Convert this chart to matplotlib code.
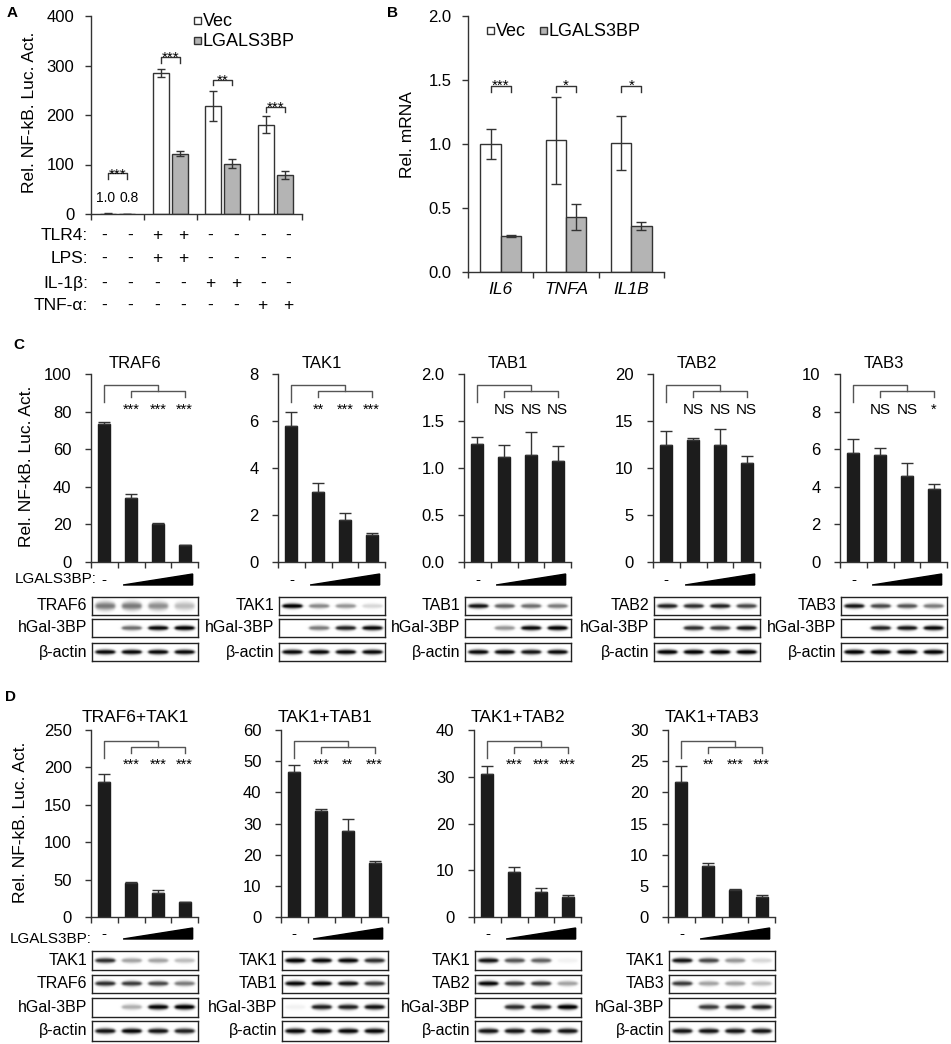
import matplotlib
matplotlib.use('Agg')
import matplotlib.pyplot as plt
from matplotlib.patches import Rectangle, Polygon
from matplotlib.transforms import blended_transform_factory
import numpy as np

plt.rcParams['font.family'] = ['Liberation Sans', 'DejaVu Sans']

W, H = 951, 1044
DARK = '#333333'
GRAY = '#b4b4b4'
BLACK = '#1c1c1c'

# ---- panel A data
a_vec = [1.0, 285, 218, 180]
a_vec_err = [0.2, 8, 31, 17]
a_lgals = [0.8, 122, 102, 79]
a_lgals_err = [0.2, 5, 10, 8]
a_stars = ['***', '***', '**', '***']
a_bracket = [82, 317, 271, 217]
a_small = ['1.0', '0.8']
a_rows = ['TLR4:', 'LPS:', 'IL-1β:', 'TNF-α:']
a_signs = [['-', '-', '+', '+', '-', '-', '-', '-'],
           ['-', '-', '+', '+', '-', '-', '-', '-'],
           ['-', '-', '-', '-', '+', '+', '-', '-'],
           ['-', '-', '-', '-', '-', '-', '+', '+']]

# ---- panel B data
b_genes = ['IL6', 'TNFA', 'IL1B']
b_vec = [1.00, 1.03, 1.01]
b_vec_err = [0.12, 0.34, 0.21]
b_lgals = [0.28, 0.43, 0.36]
b_lgals_err = [0.01, 0.10, 0.03]
b_stars = ['***', '*', '*']
b_bracket = 1.45

# ---- panel C data
c_titles = ['TRAF6', 'TAK1', 'TAB1', 'TAB2', 'TAB3']
c_vals = [[73.5, 34.0, 20.0, 9.0],
          [5.8, 3.0, 1.8, 1.15],
          [1.26, 1.12, 1.14, 1.07],
          [12.4, 13.0, 12.5, 10.5],
          [5.8, 5.7, 4.6, 3.9]]
c_errs = [[1.0, 2.4, 1.0, 0.3],
          [0.6, 0.36, 0.27, 0.07],
          [0.07, 0.13, 0.24, 0.16],
          [1.5, 0.2, 1.65, 0.8],
          [0.76, 0.39, 0.68, 0.23]]
c_ymax = [100, 8, 2.0, 20, 10]
c_ystep = [20, 2, 0.5, 5, 2]
c_fmt = ['{:.0f}', '{:.0f}', '{:.1f}', '{:.0f}', '{:.0f}']
c_sig = [['***', '***', '***'], ['**', '***', '***'], ['NS', 'NS', 'NS'],
         ['NS', 'NS', 'NS'], ['NS', 'NS', '*']]
c_blot_names = [['TRAF6', 'hGal-3BP', 'β-actin'],
                ['TAK1', 'hGal-3BP', 'β-actin'],
                ['TAB1', 'hGal-3BP', 'β-actin'],
                ['TAB2', 'hGal-3BP', 'β-actin'],
                ['TAB3', 'hGal-3BP', 'β-actin']]
c_bands = [[[0.5, 0.5, 0.42, 0.25], [0.0, 0.55, 0.95, 1.0], [0.95, 0.95, 0.95, 0.95]],
           [[1.0, 0.45, 0.4, 0.15], [0.0, 0.5, 0.85, 0.95], [0.95, 0.95, 0.95, 0.95]],
           [[0.9, 0.6, 0.55, 0.5], [0.0, 0.4, 0.95, 1.0], [0.95, 0.95, 0.9, 0.95]],
           [[0.85, 0.8, 0.85, 0.7], [0.0, 0.8, 0.75, 0.9], [1.0, 1.0, 1.0, 1.0]],
           [[0.9, 0.7, 0.65, 0.5], [0.0, 0.85, 0.9, 0.95], [1.0, 1.0, 1.0, 1.0]]]

# ---- panel D data
d_titles = ['TRAF6+TAK1', 'TAK1+TAB1', 'TAK1+TAB2', 'TAK1+TAB3']
d_vals = [[180, 46, 32, 19.5],
          [46.6, 33.9, 27.6, 17.3],
          [30.5, 9.7, 5.3, 4.2],
          [21.6, 8.2, 4.4, 3.15]]
d_errs = [[11.5, 0.5, 3.5, 0.5],
          [2.1, 0.7, 3.8, 0.8],
          [1.9, 1.07, 0.9, 0.5],
          [2.6, 0.5, 0.1, 0.3]]
d_ymax = [250, 60, 40, 30]
d_ystep = [50, 10, 10, 5]
d_sig = [['***', '***', '***'], ['***', '**', '***'], ['***', '***', '***'],
         ['**', '***', '***']]
d_blot_names = [['TAK1', 'TRAF6', 'hGal-3BP', 'β-actin'],
                ['TAK1', 'TAB1', 'hGal-3BP', 'β-actin'],
                ['TAK1', 'TAB2', 'hGal-3BP', 'β-actin'],
                ['TAK1', 'TAB3', 'hGal-3BP', 'β-actin']]
d_bands = [[[0.8, 0.35, 0.35, 0.25], [0.8, 0.75, 0.7, 0.5], [0.0, 0.3, 0.95, 1.0], [0.9, 0.95, 0.9, 0.85]],
           [[1.0, 0.95, 0.95, 0.8], [0.95, 0.95, 0.9, 0.75], [0.05, 0.85, 0.85, 0.9], [0.95, 0.95, 0.95, 0.95]],
           [[0.9, 0.65, 0.6, 0.05], [0.95, 0.75, 0.75, 0.35], [0.0, 0.8, 0.85, 1.0], [0.9, 0.9, 0.9, 0.9]],
           [[0.9, 0.7, 0.4, 0.15], [0.75, 0.35, 0.35, 0.25], [0.0, 0.75, 0.8, 0.85], [0.9, 0.9, 0.9, 0.9]]]

fig = plt.figure(figsize=(W / 100, H / 100), dpi=100)
ov = fig.add_axes([0, 0, 1, 1])
ov.set_xlim(0, W)
ov.set_ylim(H, 0)
ov.axis('off')


def add_px(x0, y0, x1, y1):
    return fig.add_axes([x0 / W, 1 - y1 / H, (x1 - x0) / W, (y1 - y0) / H])


def style(ax, ymax, step, fmt, n, pad=8):
    ax.set_xlim(0, n)
    ax.set_ylim(0, ymax)
    ax.spines[['top', 'right']].set_visible(False)
    for s in ['left', 'bottom']:
        ax.spines[s].set_color(DARK)
        ax.spines[s].set_linewidth(1)
    ticks = np.arange(0, ymax + step / 2, step)
    ax.set_yticks(ticks, [fmt.format(t) for t in ticks])
    ax.set_xticks(range(n + 1), [''] * (n + 1))
    ax.tick_params(axis='both', direction='out', length=4, width=1, color=DARK,
                   labelsize=12, pad=pad)
    ax.set_facecolor('none')


def txt(x, y, s, **kw):
    kw.setdefault('fontsize', 12)
    ov.text(x, y, s, **kw)


# ================= Panel A
axA = add_px(91, 16, 302, 214)
style(axA, 400, 100, '{:.0f}', 4)
gx = np.arange(4) + 0.5
axA.bar(gx - 0.18, a_vec, 0.3, color='white', edgecolor=DARK, linewidth=1,
        yerr=a_vec_err, capsize=3, error_kw=dict(ecolor=DARK, elinewidth=1))
axA.bar(gx + 0.18, a_lgals, 0.3, color=GRAY, edgecolor=DARK, linewidth=1,
        yerr=a_lgals_err, capsize=3, error_kw=dict(ecolor=DARK, elinewidth=1))
for i, (h, s) in enumerate(zip(a_bracket, a_stars)):
    axA.plot([gx[i] - 0.18, gx[i] - 0.18, gx[i] + 0.18, gx[i] + 0.18],
             [h - 11, h, h, h - 11], color=DARK, lw=1)
    axA.text(gx[i], h - 10, s, ha='center', va='baseline', fontsize=11)
axA.text(gx[0] - 0.225, 24, a_small[0], ha='center', va='baseline', fontsize=10)
axA.text(gx[0] + 0.225, 24, a_small[1], ha='center', va='baseline', fontsize=10)

trA = blended_transform_factory(axA.transData, ov.transData)
sign_x = np.ravel(np.column_stack([gx - 0.245, gx + 0.245]))
row_base = [240, 263, 288, 310]
for r, (lab, signs) in enumerate(zip(a_rows, a_signs)):
    txt(88, row_base[r], lab, ha='right', va='baseline', fontsize=12.5)
    for x, s in zip(sign_x, signs):
        axA.text(x, row_base[r], s, ha='center', va='baseline', fontsize=12.5,
                 transform=trA)
txt(30, 112, 'Rel. NF-kB. Luc. Act.', rotation=90, ha='center', va='center',
    fontsize=12.5)
ov.add_patch(Rectangle((194, 17), 7, 7, facecolor='white', edgecolor=DARK, lw=1))
ov.add_patch(Rectangle((194, 37), 7, 7, facecolor=GRAY, edgecolor=DARK, lw=1))
txt(203, 21, 'Vec', ha='left', va='center', fontsize=13)
txt(203, 41, 'LGALS3BP', ha='left', va='center', fontsize=13)
txt(12, 13, 'A', ha='center', va='center', fontsize=11, fontweight='bold')

# ================= Panel B
axB = add_px(468, 16, 664, 272)
style(axB, 2.0, 0.5, '{:.1f}', 3)
bx = np.arange(3) + 0.5
axB.bar(bx - 0.155, b_vec, 0.31, color='white', edgecolor=DARK, linewidth=1,
        yerr=b_vec_err, capsize=3.5, error_kw=dict(ecolor=DARK, elinewidth=1))
axB.bar(bx + 0.155, b_lgals, 0.31, color=GRAY, edgecolor=DARK, linewidth=1,
        yerr=b_lgals_err, capsize=3.5, error_kw=dict(ecolor=DARK, elinewidth=1))
axB.set_xticks(range(4), minor=True)
axB.set_xticks(bx, b_genes)
axB.tick_params(axis='x', which='major', length=0, pad=7, labelsize=12.5)
axB.tick_params(axis='x', which='minor', direction='out', length=4, width=1, color=DARK)
for lab in axB.get_xticklabels():
    lab.set_fontstyle('italic')
for i, s in enumerate(b_stars):
    axB.plot([bx[i] - 0.155, bx[i] - 0.155, bx[i] + 0.155, bx[i] + 0.155],
             [b_bracket - 0.04, b_bracket, b_bracket, b_bracket - 0.04], color=DARK, lw=1)
    axB.text(bx[i], b_bracket - 0.03, s, ha='center', va='baseline', fontsize=11)
txt(407, 135, 'Rel. mRNA', rotation=90, ha='center', va='center', fontsize=12.5)
ov.add_patch(Rectangle((487, 27), 7, 7, facecolor='white', edgecolor=DARK, lw=1))
ov.add_patch(Rectangle((540, 27), 7, 7, facecolor=GRAY, edgecolor=DARK, lw=1))
txt(496, 31, 'Vec', ha='left', va='center', fontsize=13)
txt(549, 31, 'LGALS3BP', ha='left', va='center', fontsize=13)
txt(393, 13, 'B', ha='center', va='center', fontsize=11, fontweight='bold')


def sig_brackets(ax, labels, base):
    tr = ax.get_xaxis_transform()
    ax.plot([0.5, 0.5, 2.5, 2.5], [0.85, 0.94, 0.94, 0.908], color='#555555',
            lw=1, transform=tr, clip_on=False)
    ax.plot([1.5, 1.5, 3.5, 3.5], [0.877, 0.908, 0.908, 0.877], color='#555555',
            lw=1, transform=tr, clip_on=False)
    for x, s in zip([1.5, 2.5, 3.5], labels):
        ax.text(x, base, s, ha='center', va='baseline', transform=tr,
                fontsize=11 if s == 'NS' else 10.5)


def wedge(ax, bottom, top):
    tr = ax.get_xaxis_transform()
    ax.add_patch(Polygon([(1.2, bottom), (3.8, top), (3.8, bottom)], closed=True,
                         facecolor='black', edgecolor='black', transform=tr,
                         clip_on=False))
    ax.text(0.5, bottom + 0.005, '-', ha='center', va='baseline', transform=tr,
            fontsize=11)


def draw_blot(ax, levels, sigma=0.1):
    xs = np.linspace(0, 4, 320)
    ys = np.linspace(0, 1, 60)
    X, Y = np.meshgrid(xs, ys)
    img = np.zeros_like(X)
    for i, v in enumerate(levels):
        hx = 1 / (1 + np.exp(-(X - (i + 0.13)) / 0.03)) * 1 / (1 + np.exp((X - (i + 0.87)) / 0.03))
        sx = sigma * (0.45 + 0.55 * np.sin(np.pi * np.clip(X - i, 0, 1)))
        img += v * hx * np.exp(-0.5 * ((Y - 0.5) / sx) ** 2)
    ax.imshow(img, cmap='gray_r', vmin=0, vmax=0.95, extent=[0, 4, 0, 1],
              aspect='auto', origin='lower', interpolation='bilinear')
    ax.set_xlim(0, 4)
    ax.set_ylim(0, 1)
    ax.set_xticks([])
    ax.set_yticks([])
    for s in ax.spines.values():
        s.set_color('#222222')
        s.set_linewidth(1)


# ================= Panel C
c_left = [91, 278, 464, 653, 840]
c_top, c_bot = 374, 562
c_rows = [(597, 615), (619, 637), (643, 661)]
for k in range(5):
    x0 = c_left[k]
    ax = add_px(x0, c_top, x0 + 107, c_bot)
    style(ax, c_ymax[k], c_ystep[k], c_fmt[k], 4, pad=10)
    ax.bar(np.arange(4) + 0.5, c_vals[k], 0.45, color=BLACK, edgecolor=BLACK,
           yerr=[[0] * 4, c_errs[k]], capsize=4.5,
           error_kw=dict(ecolor=DARK, elinewidth=1))
    sig_brackets(ax, c_sig[k], 0.787)
    wedge(ax, (c_bot - 585) / (c_bot - c_top), (c_bot - 574) / (c_bot - c_top))
    txt(x0 + 107 * 0.41, 363, c_titles[k], ha='center', va='center', fontsize=12)
    for r, (y0, y1) in enumerate(c_rows):
        bax = add_px(x0 + 1, y0, x0 + 107, y1)
        draw_blot(bax, c_bands[k][r], sigma=0.17 if (k == 0 and r == 0) else 0.1)
        txt(x0 - 4, (y0 + y1) / 2, c_blot_names[k][r], ha='right', va='center',
            fontsize=11.5)
txt(97, 583, 'LGALS3BP:', ha='right', va='baseline', fontsize=11)
txt(27, 466, 'Rel. NF-kB. Luc. Act.', rotation=90, ha='center', va='center',
    fontsize=12.5)
txt(19, 345, 'C', ha='center', va='center', fontsize=11, fontweight='bold')

# ================= Panel D
d_left = [91, 281, 474, 668]
d_top, d_bot = 730, 917
d_rows = [(951, 970), (975, 993), (998, 1017), (1021, 1041)]
for k in range(4):
    x0 = d_left[k]
    ax = add_px(x0, d_top, x0 + 107, d_bot)
    style(ax, d_ymax[k], d_ystep[k], '{:.0f}', 4, pad=10)
    ax.bar(np.arange(4) + 0.5, d_vals[k], 0.45, color=BLACK, edgecolor=BLACK,
           yerr=[[0] * 4, d_errs[k]], capsize=4.5,
           error_kw=dict(ecolor=DARK, elinewidth=1))
    sig_brackets(ax, d_sig[k], 0.79)
    wedge(ax, (d_bot - 939) / (d_bot - d_top), (d_bot - 928) / (d_bot - d_top))
    txt(x0 + 107 * 0.41, 718, d_titles[k], ha='center', va='center', fontsize=12.5)
    for r, (y0, y1) in enumerate(d_rows):
        bax = add_px(x0 + 1, y0, x0 + 107, y1)
        draw_blot(bax, d_bands[k][r])
        txt(x0 - 4, (y0 + y1) / 2, d_blot_names[k][r], ha='right', va='center',
            fontsize=11.5)
txt(92, 943, 'LGALS3BP:', ha='right', va='baseline', fontsize=11)
txt(21, 822, 'Rel. NF-kB. Luc. Act.', rotation=90, ha='center', va='center',
    fontsize=12.5)
txt(11, 697, 'D', ha='center', va='center', fontsize=11, fontweight='bold')

fig.savefig('out.png', dpi=100)
